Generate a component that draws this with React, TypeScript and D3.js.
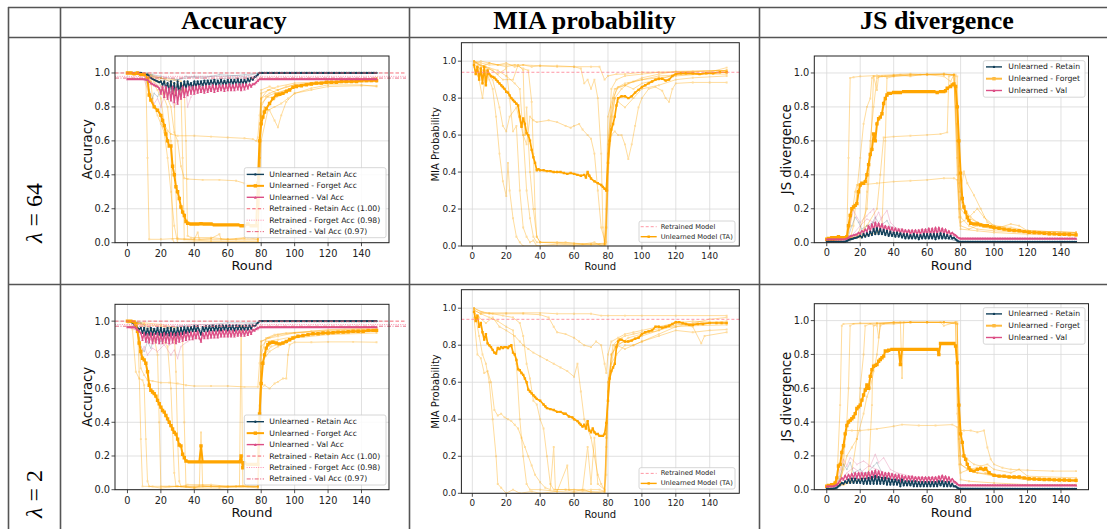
import React from "react";
import * as d3 from "d3";

type Pt = [number, number];
const perRound = (start: number, vals: number[]): Pt[] => vals.map((v, i) => [start + i, v] as Pt);

// ---------- labels / ticks ----------
const COL_TITLES = ["Accuracy", "MIA probability", "JS divergence"];
const ROW_LAMBDAS = ["64", "2"];
const ROUND_TICKS = [0, 20, 40, 60, 80, 100, 120, 140];
const VALUE_TICKS = [0, 0.2, 0.4, 0.6, 0.8, 1.0];
const ACC_LEGEND = [
  "Unlearned - Retain Acc",
  "Unlearned - Forget Acc",
  "Unlearned - Val Acc",
  "Retrained - Retain Acc (1.00)",
  "Retrained - Forget Acc (0.98)",
  "Retrained - Val Acc (0.97)",
];
const MIA_LEGEND = ["Retrained Model", "Unlearned Model (TA)"];
const JS_LEGEND = ["Unlearned - Retain", "Unlearned - Forget", "Unlearned - Val"];
const RETRAINED_ACC = [1.0, 0.98, 0.97];
const RETRAINED_MIA = 0.94;

// ================= Accuracy, lambda = 64 =================
const acc64Forget: Pt[] = [[0,1],[2,1],[4,0.995],[6,1],[8,0.99],[10,0.99],[12,0.97],[13,0.87],[14,0.84],[16,0.8],[18,0.78],[20,0.75],[21,0.72],[22,0.69],[23,0.64],[24,0.6],[25,0.57],[26,0.57],[27,0.45],[28,0.4],[29,0.33],[30,0.3],[31,0.26],[32,0.21],[33,0.18],[34,0.16],[35,0.125],[36,0.115],[38,0.11],[40,0.11],[42,0.11],[44,0.112],[46,0.11],[48,0.11],[50,0.11],[52,0.105],[54,0.105],[56,0.105],[58,0.105],[60,0.105],[62,0.105],[64,0.105],[66,0.105],[68,0.1],[70,0.1],[72,0.11],[74,0.1],[76,0.1],[77,0.1],[78,0.35],[79,0.6],[80,0.7],[81,0.74],[82,0.77],[83,0.79],[85,0.82],[87,0.85],[89,0.87],[91,0.875],[93,0.88],[95,0.89],[97,0.9],[99,0.915],[101,0.92],[104,0.925],[107,0.93],[110,0.935],[113,0.94],[116,0.94],[119,0.945],[122,0.945],[125,0.945],[128,0.95],[131,0.95],[134,0.95],[137,0.95],[140,0.955],[143,0.955],[146,0.955],[149,0.955]];
const acc64Retain: Pt[] = perRound(0, [
  1,1,1,1,1,1,1,1,1,0.995,
  0.995,0.99,0.99,0.98,0.97,0.965,0.96,0.955,0.95,0.945,
  0.95,0.93,0.95,0.91,0.94,0.89,0.95,0.88,0.94,0.87,
  0.95,0.88,0.94,0.9,0.95,0.91,0.95,0.92,0.94,0.91,
  0.95,0.92,0.95,0.92,0.95,0.925,0.955,0.925,0.955,0.93,
  0.955,0.93,0.96,0.925,0.955,0.93,0.96,0.93,0.955,0.93,
  0.96,0.93,0.96,0.935,0.96,0.93,0.965,0.93,0.96,0.935,
  0.96,0.94,0.965,0.95,0.97,0.96,0.975,0.98,0.99,1,
  1,1,1,1,1,1,1,1,1,1, 1,1,1,1,1,1,1,1,1,1, 1,1,1,1,1,1,1,1,1,1,
  1,1,1,1,1,1,1,1,1,1, 1,1,1,1,1,1,1,1,1,1, 1,1,1,1,1,1,1,1,1,1,
  1,1,1,1,1,1,1,1,1,1,
]);
const acc64Val: Pt[] = perRound(0, [
  0.965,0.965,0.965,0.965,0.965,0.965,0.965,0.965,0.965,0.965,
  0.965,0.962,0.96,0.95,0.94,0.935,0.93,0.925,0.92,0.91,
  0.88,0.92,0.86,0.92,0.85,0.91,0.84,0.92,0.83,0.91,
  0.82,0.9,0.85,0.92,0.86,0.91,0.87,0.92,0.88,0.92,
  0.88,0.92,0.885,0.925,0.89,0.92,0.885,0.925,0.89,0.925,
  0.895,0.93,0.89,0.925,0.895,0.93,0.9,0.93,0.895,0.93,
  0.9,0.935,0.9,0.93,0.9,0.935,0.905,0.935,0.9,0.935,
  0.905,0.935,0.91,0.935,0.92,0.935,0.935,0.945,0.955,0.965,
  0.965,0.965,0.965,0.965,0.965,0.965,0.965,0.965,0.965,0.965,
  0.965,0.965,0.965,0.965,0.965,0.965,0.965,0.965,0.965,0.965,
  0.965,0.965,0.965,0.965,0.965,0.965,0.965,0.965,0.965,0.965,
  0.965,0.965,0.965,0.965,0.965,0.965,0.965,0.965,0.965,0.965,
  0.965,0.965,0.965,0.965,0.965,0.965,0.965,0.965,0.965,0.965,
  0.965,0.965,0.965,0.965,0.965,0.965,0.965,0.965,0.965,0.965,
  0.965,0.965,0.965,0.965,0.965,0.965,0.965,0.965,0.965,0.965,
]);
const acc64ForgetRuns: Pt[][] = [
  [[0,1],[11,0.99],[12,0.5],[13,0.02],[20,0.02],[30,0.025],[40,0.02],[50,0.02],[60,0.02],[70,0.02],[78,0.02],[79,0.5],[80,0.85],[84,0.9],[90,0.92],[100,0.94],[120,0.95],[149,0.96]],
  [[0,1],[10,1],[14,0.95],[18,0.9],[20,0.85],[22,0.7],[24,0.66],[26,0.64],[30,0.63],[40,0.63],[50,0.625],[60,0.62],[70,0.615],[75,0.61],[77,0.6],[78,0.62],[79,0.75],[80,0.85],[85,0.88],[90,0.9],[100,0.93],[110,0.94],[130,0.95],[149,0.97]],
  [[0,1],[12,0.99],[18,0.95],[22,0.9],[26,0.8],[28,0.65],[30,0.6],[32,0.45],[34,0.38],[36,0.375],[45,0.37],[55,0.37],[65,0.365],[70,0.35],[75,0.34],[78,0.345],[79,0.6],[80,0.8],[83,0.86],[88,0.88],[95,0.9],[105,0.93],[120,0.94],[149,0.95]],
  [[0,1],[12,0.98],[16,0.95],[20,0.9],[24,0.8],[26,0.6],[27,0.02],[28,0],[40,0.005],[60,0.005],[78,0.005],[79,0.3],[80,0.75],[82,0.8],[85,0.78],[88,0.72],[90,0.68],[92,0.75],[95,0.83],[100,0.88],[110,0.91],[120,0.93],[140,0.93],[149,0.92]],
  [[0,1],[14,0.99],[20,0.97],[26,0.95],[30,0.93],[32,0.9],[33,0.5],[34,0.02],[40,0.02],[42,0.06],[43,0.02],[50,0.025],[55,0.05],[56,0.02],[65,0.02],[72,0.03],[78,0.02],[79,0.5],[80,0.88],[85,0.9],[90,0.88],[95,0.9],[100,0.92],[110,0.94],[130,0.95],[149,0.96]],
  [[0,1],[14,0.98],[20,0.97],[28,0.96],[32,0.95],[34,0.9],[35,0.6],[36,0.04],[38,0.03],[50,0.03],[60,0.02],[70,0.03],[78,0.03],[79,0.5],[80,0.9],[85,0.92],[90,0.9],[95,0.92],[100,0.93],[120,0.95],[149,0.97]],
  [[0,1],[12,0.99],[14,0.95],[15,0.85],[16,0.8],[18,0.75],[20,0.7],[22,0.65],[24,0.5],[26,0.3],[28,0.1],[30,0],[50,0],[78,0],[79,0.4],[80,0.82],[84,0.86],[88,0.85],[92,0.87],[96,0.9],[100,0.92],[110,0.93],[130,0.945],[149,0.95]],
  [[0,1],[14,0.98],[22,0.95],[28,0.9],[29,0.3],[30,0.02],[50,0.01],[78,0.01],[79,0.3],[80,0.6],[84,0.78],[88,0.8],[92,0.82],[96,0.85],[100,0.88],[110,0.9],[120,0.92],[140,0.925],[149,0.925]],
];
const acc64RetainRuns: Pt[][] = [
  [[0,1],[10,0.99],[13,0.9],[15,0.85],[16,0.88],[18,0.86],[20,0.9],[25,0.88],[30,0.92],[35,0.93],[40,0.95],[50,0.96],[60,0.97],[70,0.97],[76,0.98],[79,1],[149,1]],
  [[0,1],[12,1],[15,0.98],[20,0.97],[25,0.95],[30,0.96],[40,0.98],[50,0.98],[60,0.98],[70,0.99],[78,1],[149,1]],
  [[0,1],[15,0.99],[20,0.98],[30,0.96],[35,0.98],[45,0.97],[55,0.99],[70,0.98],[79,1],[149,1]],
];
const acc64ValRuns: Pt[][] = [
  [[0,0.965],[10,0.96],[14,0.85],[16,0.82],[18,0.85],[20,0.8],[22,0.86],[26,0.85],[28,0.8],[30,0.84],[32,0.88],[35,0.9],[36,0.8],[38,0.86],[40,0.88],[50,0.9],[60,0.91],[70,0.92],[78,0.95],[80,0.965],[149,0.965]],
  [[0,0.965],[12,0.96],[16,0.94],[20,0.92],[25,0.93],[30,0.9],[40,0.93],[50,0.94],[60,0.95],[70,0.95],[78,0.96],[80,0.965],[149,0.965]],
];

// ================= MIA, lambda = 64 =================
const mia64Main: Pt[] = [[1,0.98],[2,0.93],[3,0.97],[4,0.9],[5,0.96],[6,0.88],[7,0.97],[8,0.87],[9,0.95],[10,0.93],[11,0.92],[12,0.915],[13,0.91],[14,0.9],[15,0.89],[16,0.88],[17,0.87],[18,0.86],[19,0.85],[20,0.835],[21,0.83],[22,0.815],[23,0.8],[24,0.79],[25,0.78],[26,0.77],[27,0.76],[28,0.7],[29,0.645],[30,0.69],[31,0.66],[32,0.61],[33,0.6],[34,0.57],[35,0.52],[36,0.48],[37,0.45],[38,0.41],[39,0.415],[40,0.41],[42,0.41],[44,0.405],[46,0.405],[48,0.4],[50,0.4],[52,0.4],[54,0.395],[56,0.39],[58,0.395],[60,0.39],[62,0.385],[64,0.38],[66,0.385],[67,0.37],[68,0.4],[69,0.38],[70,0.365],[72,0.35],[74,0.34],[76,0.33],[77,0.32],[78,0.31],[79,0.3],[80,0.45],[81,0.57],[82,0.63],[83,0.66],[84,0.7],[85,0.76],[86,0.8],[88,0.81],[90,0.81],[92,0.8],[94,0.81],[96,0.83],[98,0.845],[100,0.86],[102,0.87],[104,0.88],[106,0.89],[108,0.9],[110,0.905],[112,0.905],[114,0.895],[116,0.9],[118,0.92],[120,0.93],[123,0.935],[126,0.935],[130,0.935],[134,0.93],[138,0.935],[142,0.935],[146,0.94],[150,0.94]];
const mia64Runs: Pt[][] = [
  [[1,1],[5,0.99],[10,0.98],[20,0.98],[30,0.98],[40,0.975],[50,0.975],[60,0.97],[64,0.96],[66,0.88],[68,0.9],[70,0.85],[72,0.9],[74,0.8],[76,0.5],[77,0.1],[78,0.01],[79,0.01],[80,0.5],[82,0.85],[85,0.9],[90,0.92],[100,0.93],[110,0.94],[130,0.945],[150,0.95]],
  [[1,0.99],[5,1],[10,0.99],[15,0.98],[20,0.99],[25,0.97],[30,0.98],[35,0.97],[40,0.975],[50,0.97],[60,0.97],[70,0.97],[75,0.97],[78,0.9],[80,0.92],[85,0.93],[90,0.93],[100,0.94],[120,0.94],[150,0.95]],
  [[1,0.97],[4,0.9],[6,0.8],[8,0.95],[10,0.9],[12,0.85],[14,0.7],[16,0.5],[18,0.35],[20,0.27],[21,0.45],[22,0.3],[24,0.15],[26,0.05],[28,0.02],[30,0],[40,0],[50,0],[60,0],[70,0],[78,0],[79,0.2],[80,0.55],[82,0.75],[85,0.85],[90,0.87],[95,0.85],[100,0.88],[110,0.9],[120,0.93],[150,0.93]],
  [[1,0.99],[8,0.97],[15,0.95],[20,0.92],[25,0.88],[28,0.85],[30,0.6],[32,0.55],[34,0.7],[36,0.68],[38,0.67],[45,0.68],[50,0.67],[55,0.65],[58,0.64],[60,0.65],[63,0.66],[65,0.63],[68,0.6],[70,0.58],[72,0.5],[74,0.3],[76,0.1],[78,0.03],[79,0.02],[80,0.4],[82,0.65],[84,0.8],[88,0.85],[92,0.88],[100,0.9],[110,0.92],[130,0.93],[150,0.94]],
  [[1,1],[5,0.98],[10,0.96],[15,0.93],[20,0.96],[22,0.8],[24,0.62],[26,0.65],[28,0.3],[30,0.1],[32,0.05],[34,0.02],[36,0.03],[38,0],[50,0.01],[60,0.005],[70,0.01],[78,0.01],[79,0.1],[80,0.45],[82,0.6],[84,0.62],[86,0.6],[88,0.6],[90,0.55],[92,0.47],[94,0.55],[96,0.65],[98,0.75],[100,0.8],[104,0.85],[108,0.86],[112,0.84],[114,0.8],[116,0.78],[118,0.85],[120,0.88],[130,0.885],[140,0.885],[150,0.885]],
  [[1,1],[6,0.97],[12,0.95],[18,0.9],[24,0.9],[27,0.98],[30,0.95],[31,0.6],[32,0.75],[34,0.4],[36,0.2],[38,0.05],[40,0.02],[50,0.02],[60,0.015],[70,0.01],[78,0.015],[79,0.1],[80,0.5],[82,0.7],[84,0.8],[86,0.78],[90,0.75],[95,0.8],[100,0.85],[110,0.87],[120,0.9],[130,0.91],[150,0.92]],
  [[1,0.98],[6,0.95],[12,0.9],[16,0.75],[18,0.65],[20,0.62],[22,0.7],[26,0.75],[30,0.6],[32,0.3],[34,0.15],[36,0.05],[38,0.02],[40,0.02],[55,0.02],[65,0.01],[72,0.02],[76,0],[78,0],[80,0.3],[81,0.6],[83,0.8],[86,0.86],[90,0.87],[95,0.89],[100,0.91],[110,0.93],[120,0.945],[150,0.95]],
  [[1,1],[5,0.97],[10,0.99],[15,0.98],[20,0.97],[25,0.98],[30,0.96],[33,0.95],[35,0.78],[36,0.5],[37,0.2],[38,0.05],[40,0.02],[60,0.01],[75,0.01],[78,0.01],[79,0.3],[80,0.7],[84,0.85],[90,0.88],[100,0.9],[110,0.91],[120,0.92],[135,0.93],[150,0.965]],
];

// ================= JS divergence, lambda = 64 =================
const js64Forget: Pt[] = [[0,0.02],[1,0.025],[2,0.02],[3,0.03],[4,0.02],[5,0.03],[6,0.025],[7,0.035],[8,0.025],[9,0.03],[10,0.03],[11,0.03],[12,0.035],[13,0.1],[14,0.16],[15,0.2],[16,0.21],[17,0.22],[18,0.23],[19,0.3],[20,0.34],[21,0.35],[22,0.35],[23,0.36],[24,0.4],[25,0.46],[26,0.52],[27,0.55],[28,0.64],[29,0.6],[30,0.7],[31,0.73],[32,0.74],[33,0.76],[34,0.82],[35,0.85],[36,0.87],[37,0.88],[38,0.88],[40,0.885],[42,0.885],[44,0.885],[46,0.89],[48,0.89],[50,0.89],[52,0.89],[54,0.89],[56,0.89],[58,0.89],[60,0.89],[62,0.89],[64,0.89],[66,0.885],[68,0.89],[70,0.89],[71,0.895],[72,0.91],[74,0.92],[75,0.93],[76,0.935],[77,0.92],[78,0.8],[79,0.6],[80,0.41],[81,0.26],[82,0.21],[83,0.18],[84,0.15],[85,0.13],[86,0.115],[88,0.11],[90,0.11],[92,0.105],[94,0.1],[96,0.1],[98,0.095],[100,0.09],[103,0.085],[106,0.08],[109,0.075],[112,0.072],[115,0.07],[118,0.065],[121,0.062],[124,0.06],[127,0.058],[130,0.055],[133,0.053],[136,0.052],[139,0.05],[142,0.05],[145,0.048],[149,0.046]];
const js64Retain: Pt[] = perRound(0, [
  0.005,0.005,0.005,0.005,0.005,0.005,0.005,0.005,0.005,0.005,
  0.005,0.006,0.01,0.015,0.02,0.022,0.025,0.028,0.03,0.035,
  0.04,0.03,0.05,0.035,0.055,0.04,0.065,0.045,0.08,0.05,
  0.085,0.05,0.08,0.05,0.075,0.045,0.07,0.04,0.065,0.04,
  0.06,0.035,0.06,0.035,0.055,0.03,0.05,0.025,0.05,0.025,
  0.045,0.025,0.05,0.025,0.045,0.02,0.045,0.025,0.05,0.025,
  0.05,0.025,0.05,0.025,0.05,0.02,0.05,0.025,0.055,0.025,
  0.05,0.025,0.045,0.025,0.04,0.025,0.03,0.02,0.012,0.006,
  0.005,0.005,0.005,0.005,0.005,0.005,0.005,0.005,0.005,0.005,
  0.005,0.005,0.005,0.005,0.005,0.005,0.005,0.005,0.005,0.005,
  0.005,0.005,0.005,0.005,0.005,0.005,0.005,0.005,0.005,0.005,
  0.005,0.005,0.005,0.005,0.005,0.005,0.005,0.005,0.005,0.005,
  0.005,0.005,0.005,0.005,0.005,0.005,0.005,0.005,0.005,0.005,
  0.005,0.005,0.005,0.005,0.005,0.005,0.005,0.005,0.005,0.005,
  0.005,0.005,0.005,0.005,0.005,0.005,0.005,0.005,0.005,0.005,
]);
const js64Val: Pt[] = perRound(0, [
  0.02,0.02,0.02,0.02,0.02,0.02,0.02,0.02,0.02,0.02,
  0.02,0.022,0.025,0.03,0.04,0.042,0.045,0.048,0.05,0.06,
  0.055,0.07,0.06,0.08,0.065,0.1,0.07,0.11,0.075,0.12,
  0.08,0.115,0.08,0.11,0.075,0.1,0.07,0.095,0.065,0.09,
  0.065,0.085,0.06,0.08,0.055,0.08,0.055,0.075,0.055,0.075,
  0.05,0.075,0.05,0.075,0.05,0.075,0.05,0.08,0.05,0.08,
  0.05,0.085,0.05,0.085,0.05,0.09,0.05,0.09,0.055,0.085,
  0.05,0.08,0.05,0.07,0.05,0.06,0.05,0.045,0.035,0.028,
  0.025,0.025,0.025,0.025,0.025,0.025,0.025,0.025,0.025,0.025,
  0.025,0.025,0.025,0.025,0.025,0.025,0.025,0.025,0.025,0.025,
  0.025,0.025,0.025,0.025,0.025,0.025,0.025,0.025,0.025,0.025,
  0.025,0.025,0.025,0.025,0.025,0.025,0.025,0.025,0.025,0.025,
  0.025,0.025,0.025,0.025,0.025,0.025,0.025,0.025,0.025,0.025,
  0.025,0.025,0.025,0.025,0.025,0.025,0.025,0.025,0.025,0.025,
  0.025,0.025,0.025,0.025,0.025,0.025,0.025,0.025,0.025,0.025,
]);
const js64ForgetRuns: Pt[][] = [
  [[0,0.02],[12,0.03],[13,0.5],[14,0.97],[16,0.975],[20,0.98],[30,0.985],[40,0.99],[50,0.995],[60,0.99],[70,0.995],[76,0.99],[78,0.5],[79,0.15],[80,0.08],[90,0.07],[100,0.06],[120,0.05],[149,0.04]],
  [[0,0.01],[14,0.02],[16,0.1],[18,0.3],[20,0.5],[22,0.7],[24,0.8],[26,0.85],[27,0.97],[28,0.98],[35,0.98],[40,0.985],[50,0.99],[60,0.99],[70,0.98],[74,0.95],[76,0.99],[78,0.6],[79,0.35],[80,0.3],[82,0.42],[84,0.35],[88,0.28],[92,0.2],[96,0.12],[100,0.1],[110,0.09],[120,0.07],[149,0.06]],
  [[0,0.02],[15,0.03],[20,0.05],[24,0.1],[30,0.2],[32,0.4],[34,0.62],[40,0.625],[50,0.63],[60,0.635],[68,0.64],[72,0.65],[73,0.98],[76,0.99],[78,0.6],[80,0.25],[82,0.2],[86,0.15],[90,0.12],[100,0.08],[120,0.06],[149,0.05]],
  [[0,0.01],[12,0.02],[14,0.1],[17,0.3],[18,0.34],[20,0.34],[30,0.35],[40,0.36],[50,0.365],[60,0.37],[70,0.38],[76,0.38],[78,0.37],[79,0.2],[80,0.12],[84,0.14],[88,0.18],[90,0.2],[94,0.15],[100,0.1],[110,0.08],[120,0.06],[149,0.05]],
  [[0,0.02],[20,0.03],[30,0.06],[33,0.1],[35,0.6],[36,0.97],[40,0.98],[50,0.985],[60,0.99],[70,0.99],[77,0.99],[78,0.7],[79,0.3],[80,0.1],[85,0.08],[90,0.1],[100,0.08],[110,0.11],[115,0.1],[120,0.07],[149,0.06]],
  [[0,0.02],[18,0.03],[24,0.2],[26,0.5],[28,0.98],[30,0.9],[31,0.98],[40,0.985],[44,0.99],[50,0.98],[56,0.99],[60,0.995],[70,0.99],[76,0.99],[78,0.4],[80,0.15],[85,0.1],[90,0.08],[100,0.07],[120,0.06],[149,0.05]],
  [[0,0.02],[14,0.02],[22,0.05],[24,0.3],[26,0.6],[28,0.8],[30,0.97],[33,0.98],[40,0.98],[50,0.99],[60,0.99],[70,0.995],[78,0.98],[79,0.45],[80,0.2],[84,0.15],[90,0.12],[100,0.09],[120,0.07],[149,0.06]],
];
const js64RetainRuns: Pt[][] = [
  [[0,0.005],[12,0.01],[15,0.1],[17,0.15],[19,0.12],[21,0.08],[24,0.1],[28,0.12],[30,0.06],[35,0.05],[40,0.04],[50,0.03],[60,0.03],[70,0.03],[78,0.01],[80,0.005],[149,0.005]],
  [[0,0.005],[14,0.01],[20,0.05],[25,0.08],[29,0.15],[32,0.1],[36,0.13],[40,0.06],[50,0.04],[65,0.04],[78,0.01],[149,0.005]],
];
const js64ValRuns: Pt[][] = [
  [[0,0.02],[12,0.03],[14,0.12],[16,0.19],[18,0.15],[20,0.12],[24,0.16],[26,0.18],[28,0.2],[30,0.1],[33,0.15],[36,0.19],[38,0.12],[42,0.08],[50,0.06],[60,0.06],[70,0.07],[78,0.03],[80,0.025],[149,0.025]],
  [[0,0.02],[14,0.03],[20,0.1],[24,0.14],[28,0.12],[31,0.18],[34,0.1],[40,0.09],[50,0.07],[60,0.08],[70,0.08],[78,0.03],[149,0.025]],
];

// ================= Accuracy, lambda = 2 =================
const acc2Forget: Pt[] = [[0,1],[2,1],[4,0.995],[5,0.98],[6,0.94],[7,0.87],[8,0.82],[9,0.78],[10,0.77],[11,0.75],[12,0.7],[13,0.62],[14,0.59],[15,0.58],[16,0.57],[17,0.555],[18,0.53],[19,0.51],[20,0.49],[21,0.47],[22,0.46],[23,0.44],[24,0.42],[25,0.4],[26,0.38],[27,0.36],[28,0.34],[29,0.33],[30,0.3],[31,0.265],[32,0.26],[33,0.21],[34,0.19],[35,0.17],[37,0.165],[39,0.165],[41,0.165],[43,0.165],[44,0.26],[45,0.165],[47,0.165],[49,0.165],[51,0.165],[53,0.165],[55,0.165],[57,0.165],[59,0.165],[61,0.165],[63,0.165],[65,0.165],[67,0.165],[68,0.2],[69,0.13],[70,0.16],[72,0.15],[74,0.15],[76,0.15],[78,0.15],[79,0.45],[80,0.63],[81,0.75],[82,0.8],[83,0.84],[84,0.86],[85,0.87],[87,0.875],[89,0.87],[91,0.865],[93,0.87],[95,0.88],[97,0.89],[99,0.9],[102,0.91],[105,0.915],[108,0.92],[111,0.925],[114,0.925],[117,0.93],[120,0.93],[123,0.932],[126,0.935],[129,0.935],[132,0.937],[135,0.94],[138,0.94],[141,0.94],[144,0.945],[147,0.945],[149,0.945]];
const acc2Retain: Pt[] = perRound(0, [
  1,1,1,0.99,0.98,0.97,0.96,0.95,0.96,0.93,
  0.96,0.92,0.955,0.92,0.96,0.92,0.955,0.925,0.96,0.92,
  0.96,0.915,0.955,0.92,0.96,0.915,0.96,0.92,0.955,0.915,
  0.96,0.92,0.96,0.925,0.965,0.93,0.965,0.935,0.965,0.94,
  0.97,0.94,0.97,0.945,0.92,0.965,0.94,0.97,0.94,0.97,
  0.945,0.975,0.945,0.97,0.945,0.975,0.945,0.975,0.95,0.975,
  0.945,0.975,0.95,0.975,0.945,0.975,0.95,0.975,0.95,0.97,
  0.95,0.975,0.95,0.975,0.955,0.975,0.97,0.98,0.99,1,
  1,1,1,1,1,1,1,1,1,1, 1,1,1,1,1,1,1,1,1,1, 1,1,1,1,1,1,1,1,1,1,
  1,1,1,1,1,1,1,1,1,1, 1,1,1,1,1,1,1,1,1,1, 1,1,1,1,1,1,1,1,1,1,
  1,1,1,1,1,1,1,1,1,1,
]);
const acc2Val: Pt[] = perRound(0, [
  0.965,0.965,0.965,0.965,0.965,0.96,0.95,0.94,0.93,0.89,
  0.93,0.88,0.925,0.875,0.93,0.87,0.925,0.875,0.93,0.87,
  0.925,0.87,0.93,0.875,0.925,0.87,0.93,0.875,0.925,0.87,
  0.93,0.88,0.93,0.885,0.935,0.89,0.935,0.895,0.935,0.895,
  0.935,0.9,0.94,0.9,0.88,0.93,0.9,0.935,0.9,0.94,
  0.905,0.94,0.905,0.94,0.905,0.945,0.91,0.945,0.91,0.945,
  0.91,0.945,0.91,0.945,0.91,0.945,0.915,0.945,0.915,0.945,
  0.915,0.945,0.92,0.945,0.925,0.95,0.945,0.955,0.96,0.965,
  0.965,0.965,0.965,0.965,0.965,0.965,0.965,0.965,0.965,0.965,
  0.965,0.965,0.965,0.965,0.965,0.965,0.965,0.965,0.965,0.965,
  0.965,0.965,0.965,0.965,0.965,0.965,0.965,0.965,0.965,0.965,
  0.965,0.965,0.965,0.965,0.965,0.965,0.965,0.965,0.965,0.965,
  0.965,0.965,0.965,0.965,0.965,0.965,0.965,0.965,0.965,0.965,
  0.965,0.965,0.965,0.965,0.965,0.965,0.965,0.965,0.965,0.965,
  0.965,0.965,0.965,0.965,0.965,0.965,0.965,0.965,0.965,0.965,
]);
const acc2ForgetRuns: Pt[][] = [
  [[0,1],[6,0.99],[7,0.7],[8,0.3],[9,0.02],[15,0.02],[25,0.02],[35,0.02],[45,0.025],[55,0.02],[65,0.02],[72,0.02],[78,0.02],[79,0.5],[80,0.88],[84,0.9],[90,0.92],[100,0.93],[120,0.95],[149,0.96]],
  [[0,1],[3,0.95],[5,0.7],[7,0.66],[9,0.65],[10,0.62],[11,0.3],[12,0.05],[13,0.02],[20,0.01],[30,0.02],[40,0.015],[50,0.02],[60,0.02],[68,0.02],[78,0.02],[79,0.3],[80,0.8],[83,0.9],[88,0.92],[95,0.93],[110,0.94],[130,0.95],[149,0.95]],
  [[0,1],[5,0.99],[7,0.9],[8,0.72],[10,0.68],[12,0.65],[15,0.645],[20,0.635],[25,0.635],[30,0.63],[35,0.62],[40,0.615],[50,0.615],[60,0.615],[70,0.61],[78,0.61],[79,0.75],[80,0.88],[85,0.9],[90,0.91],[100,0.93],[120,0.94],[149,0.95]],
  [[0,1],[8,0.98],[12,0.95],[16,0.9],[18,0.8],[19,0.4],[20,0.02],[30,0.02],[40,0.01],[43,0.02],[44,0.34],[45,0.02],[60,0.015],[78,0.015],[79,0.2],[80,0.6],[82,0.62],[85,0.6],[88,0.63],[90,0.64],[93,0.66],[95,0.66],[96,0.8],[97,0.86],[100,0.875],[110,0.875],[120,0.877],[135,0.877],[149,0.875]],
  [[0,1],[10,0.98],[15,0.95],[20,0.9],[24,0.85],[26,0.6],[28,0.1],[29,0.02],[40,0.01],[55,0.01],[67,0.02],[68,0.97],[69,0.02],[78,0.01],[79,0.4],[80,0.85],[83,0.88],[90,0.89],[100,0.91],[120,0.93],[149,0.94]],
  [[0,1],[10,0.98],[20,0.97],[28,0.95],[29,0.7],[30,0.3],[31,0.05],[32,0.02],[36,0.03],[50,0.03],[60,0.02],[70,0.025],[78,0.02],[79,0.3],[80,0.7],[82,0.8],[86,0.85],[90,0.86],[95,0.88],[100,0.9],[120,0.92],[149,0.93]],
  [[0,1],[10,0.99],[20,0.98],[30,0.96],[33,0.9],[34,0.4],[35,0.02],[50,0.02],[65,0.02],[78,0.02],[79,0.4],[80,0.75],[85,0.82],[90,0.85],[95,0.87],[100,0.9],[110,0.92],[130,0.93],[149,0.94]],
];
const acc2RetainRuns: Pt[][] = [
  [[0,1],[6,0.97],[8,0.85],[10,0.82],[12,0.88],[14,0.84],[16,0.9],[20,0.88],[25,0.92],[30,0.9],[35,0.94],[40,0.95],[50,0.97],[60,0.97],[70,0.98],[78,0.99],[80,1],[149,1]],
  [[0,1],[8,0.99],[12,0.96],[20,0.95],[30,0.97],[40,0.98],[50,0.98],[60,0.99],[78,0.99],[80,1],[149,1]],
];
const acc2ValRuns: Pt[][] = [
  [[0,0.965],[6,0.95],[8,0.8],[10,0.85],[12,0.8],[15,0.84],[18,0.82],[22,0.86],[26,0.8],[28,0.83],[30,0.78],[32,0.85],[36,0.88],[40,0.9],[50,0.9],[60,0.91],[70,0.92],[78,0.95],[80,0.965],[149,0.965]],
  [[0,0.965],[8,0.94],[12,0.9],[16,0.88],[20,0.9],[25,0.86],[30,0.88],[35,0.91],[45,0.93],[55,0.94],[70,0.94],[78,0.96],[149,0.965]],
];

// ================= MIA, lambda = 2 =================
const mia2Main: Pt[] = [[1,0.98],[2,0.93],[3,0.96],[4,0.9],[5,0.92],[6,0.87],[7,0.83],[8,0.86],[9,0.81],[10,0.8],[11,0.79],[12,0.775],[13,0.76],[14,0.755],[15,0.785],[16,0.78],[17,0.79],[18,0.785],[19,0.79],[20,0.79],[21,0.785],[22,0.795],[23,0.8],[24,0.76],[25,0.75],[26,0.72],[27,0.67],[28,0.665],[29,0.65],[30,0.64],[31,0.62],[32,0.6],[33,0.56],[34,0.55],[35,0.54],[36,0.53],[37,0.52],[38,0.51],[40,0.5],[42,0.48],[43,0.47],[44,0.46],[46,0.455],[48,0.45],[50,0.44],[52,0.44],[54,0.43],[55,0.43],[57,0.415],[59,0.41],[60,0.4],[62,0.39],[63,0.38],[64,0.37],[65,0.36],[66,0.37],[67,0.35],[68,0.39],[69,0.34],[70,0.33],[71,0.35],[72,0.33],[73,0.32],[74,0.32],[75,0.31],[76,0.31],[77,0.31],[78,0.32],[79,0.38],[80,0.5],[81,0.62],[82,0.66],[83,0.68],[84,0.7],[85,0.79],[86,0.82],[87,0.83],[88,0.83],[90,0.82],[92,0.82],[94,0.825],[96,0.835],[98,0.84],[100,0.86],[102,0.87],[104,0.875],[106,0.88],[108,0.9],[110,0.9],[112,0.895],[114,0.9],[116,0.905],[118,0.915],[120,0.925],[122,0.925],[124,0.92],[126,0.915],[128,0.91],[130,0.91],[133,0.915],[136,0.915],[140,0.92],[144,0.92],[147,0.92],[150,0.92]];
const mia2Runs: Pt[][] = [
  [[1,0.99],[5,0.97],[10,0.975],[20,0.975],[30,0.975],[40,0.975],[50,0.97],[60,0.97],[70,0.97],[76,0.96],[80,0.96],[90,0.96],[100,0.96],[120,0.96],[150,0.96]],
  [[1,1],[5,0.98],[10,0.97],[20,0.97],[30,0.97],[40,0.965],[45,0.95],[48,0.9],[50,0.87],[55,0.86],[60,0.84],[63,0.82],[66,0.8],[70,0.79],[73,0.82],[76,0.8],[78,0.7],[79,0.65],[80,0.75],[82,0.82],[86,0.84],[90,0.86],[95,0.87],[100,0.88],[110,0.9],[120,0.92],[130,0.9],[135,0.81],[137,0.85],[150,0.87]],
  [[1,0.98],[4,0.95],[8,0.92],[12,0.95],[16,0.9],[20,0.88],[25,0.85],[28,0.82],[30,0.8],[33,0.78],[36,0.76],[40,0.74],[44,0.72],[48,0.7],[52,0.68],[56,0.66],[60,0.63],[62,0.7],[64,0.55],[66,0.4],[68,0.35],[70,0.3],[72,0.2],[74,0.1],[76,0.05],[78,0.02],[79,0.1],[80,0.5],[82,0.75],[85,0.8],[90,0.78],[95,0.8],[100,0.82],[110,0.85],[120,0.88],[130,0.87],[140,0.88],[150,0.885]],
  [[1,0.95],[3,0.75],[5,0.73],[7,0.65],[9,0.66],[11,0.6],[13,0.45],[15,0.42],[17,0.43],[19,0.41],[21,0.4],[23,0.39],[25,0.37],[27,0.35],[29,0.3],[31,0.25],[33,0.2],[35,0.15],[37,0.1],[40,0.06],[43,0.03],[46,0.02],[48,0.25],[49,0.02],[55,0.02],[60,0.02],[65,0.015],[70,0.02],[75,0.02],[78,0.01],[79,0.2],[80,0.55],[82,0.7],[85,0.75],[90,0.8],[95,0.8],[100,0.82],[110,0.86],[120,0.9],[130,0.92],[140,0.94],[150,0.95]],
  [[1,1],[4,0.85],[6,0.75],[8,0.7],[10,0.6],[12,0.4],[14,0.2],[15,0.05],[17,0.03],[20,0],[24,0.02],[28,0],[35,0.01],[40,0],[50,0.01],[60,0.005],[70,0.01],[78,0],[79,0.3],[80,0.6],[83,0.8],[86,0.83],[90,0.85],[95,0.86],[100,0.87],[110,0.89],[120,0.9],[130,0.905],[150,0.91]],
  [[1,0.99],[5,0.97],[10,0.95],[15,0.93],[20,0.9],[24,0.88],[26,0.7],[28,0.4],[30,0.2],[32,0.05],[34,0.02],[40,0.02],[50,0.01],[56,0.15],[57,0.02],[66,0.02],[70,0.005],[78,0.01],[79,0.25],[80,0.55],[82,0.75],[86,0.8],[92,0.84],[100,0.86],[110,0.88],[120,0.91],[135,0.92],[150,0.93]],
  [[1,1],[6,0.98],[12,0.97],[18,0.96],[24,0.95],[28,0.92],[30,0.85],[32,0.7],[34,0.62],[36,0.5],[38,0.48],[40,0.4],[42,0.35],[44,0.2],[46,0.05],[48,0.02],[55,0.02],[60,0.01],[65,0.02],[68,0.25],[70,0.05],[72,0.3],[74,0.05],[78,0.02],[79,0.3],[80,0.6],[84,0.8],[90,0.82],[100,0.85],[110,0.88],[120,0.92],[130,0.93],[150,0.92]],
];

// ================= JS divergence, lambda = 2 =================
const js2Forget: Pt[] = [[0,0.02],[1,0.025],[2,0.025],[3,0.03],[4,0.03],[5,0.04],[6,0.07],[7,0.14],[8,0.15],[9,0.22],[10,0.26],[11,0.33],[12,0.38],[13,0.4],[14,0.41],[15,0.42],[16,0.43],[17,0.45],[18,0.48],[19,0.49],[20,0.5],[21,0.53],[22,0.56],[23,0.59],[24,0.62],[25,0.6],[26,0.67],[27,0.71],[28,0.73],[29,0.735],[30,0.74],[31,0.76],[32,0.77],[33,0.78],[34,0.79],[35,0.82],[36,0.82],[37,0.825],[39,0.83],[41,0.83],[43,0.83],[44,0.74],[45,0.83],[47,0.83],[49,0.83],[51,0.83],[53,0.83],[55,0.83],[57,0.83],[59,0.83],[61,0.83],[63,0.83],[65,0.83],[66,0.83],[67,0.8],[68,0.865],[70,0.865],[72,0.865],[74,0.865],[76,0.865],[77,0.85],[78,0.75],[79,0.5],[80,0.33],[81,0.28],[82,0.2],[83,0.18],[84,0.15],[85,0.13],[86,0.115],[88,0.11],[90,0.12],[92,0.125],[94,0.12],[95,0.125],[97,0.1],[100,0.085],[103,0.08],[106,0.08],[109,0.075],[112,0.075],[115,0.075],[118,0.07],[121,0.065],[124,0.063],[127,0.062],[130,0.06],[133,0.06],[136,0.058],[139,0.057],[142,0.057],[145,0.056],[149,0.055]];
const js2Retain: Pt[] = perRound(0, [
  0.005,0.005,0.005,0.005,0.006,0.008,0.012,0.02,0.03,0.04,
  0.035,0.05,0.04,0.06,0.04,0.065,0.04,0.065,0.04,0.06,
  0.04,0.065,0.035,0.065,0.035,0.07,0.035,0.075,0.035,0.08,
  0.035,0.075,0.035,0.07,0.035,0.07,0.03,0.065,0.03,0.06,
  0.03,0.06,0.03,0.055,0.02,0.06,0.025,0.05,0.025,0.05,
  0.025,0.05,0.02,0.05,0.02,0.045,0.02,0.045,0.02,0.045,
  0.02,0.045,0.02,0.045,0.02,0.045,0.02,0.05,0.025,0.05,
  0.02,0.045,0.02,0.045,0.02,0.035,0.02,0.02,0.012,0.006,
  0.005,0.005,0.005,0.005,0.005,0.005,0.005,0.005,0.005,0.005,
  0.005,0.005,0.005,0.005,0.005,0.005,0.005,0.005,0.005,0.005,
  0.005,0.005,0.005,0.005,0.005,0.005,0.005,0.005,0.005,0.005,
  0.005,0.005,0.005,0.005,0.005,0.005,0.005,0.005,0.005,0.005,
  0.005,0.005,0.005,0.005,0.005,0.005,0.005,0.005,0.005,0.005,
  0.005,0.005,0.005,0.005,0.005,0.005,0.005,0.005,0.005,0.005,
  0.005,0.005,0.005,0.005,0.005,0.005,0.005,0.005,0.005,0.005,
]);
const js2Val: Pt[] = perRound(0, [
  0.02,0.02,0.02,0.02,0.022,0.025,0.03,0.04,0.055,0.07,
  0.06,0.085,0.065,0.09,0.07,0.095,0.07,0.1,0.07,0.1,
  0.07,0.1,0.07,0.1,0.07,0.105,0.07,0.11,0.075,0.115,
  0.075,0.11,0.075,0.105,0.07,0.1,0.07,0.1,0.065,0.095,
  0.065,0.09,0.06,0.09,0.05,0.085,0.06,0.08,0.055,0.08,
  0.055,0.08,0.055,0.075,0.055,0.075,0.05,0.075,0.05,0.075,
  0.05,0.075,0.05,0.075,0.05,0.075,0.05,0.08,0.055,0.085,
  0.055,0.08,0.05,0.075,0.05,0.065,0.05,0.045,0.035,0.028,
  0.027,0.027,0.027,0.027,0.027,0.027,0.027,0.027,0.027,0.027,
  0.027,0.027,0.027,0.027,0.027,0.027,0.027,0.027,0.027,0.027,
  0.027,0.027,0.027,0.027,0.027,0.027,0.027,0.027,0.027,0.027,
  0.027,0.027,0.027,0.027,0.027,0.027,0.027,0.027,0.027,0.027,
  0.027,0.027,0.027,0.027,0.027,0.027,0.027,0.027,0.027,0.027,
  0.027,0.027,0.027,0.027,0.027,0.027,0.027,0.027,0.027,0.027,
  0.027,0.027,0.027,0.027,0.027,0.027,0.027,0.027,0.027,0.027,
]);
const js2ForgetRuns: Pt[][] = [
  [[0,0.02],[6,0.03],[8,0.5],[9,0.97],[10,0.98],[20,0.985],[30,0.985],[40,0.99],[50,0.99],[60,0.99],[70,0.99],[77,0.99],[78,0.6],[79,0.3],[80,0.15],[85,0.12],[90,0.1],[100,0.08],[120,0.06],[149,0.05]],
  [[0,0.02],[8,0.03],[10,0.15],[11,0.3],[12,0.35],[15,0.35],[20,0.35],[25,0.355],[30,0.36],[40,0.375],[45,0.385],[55,0.38],[65,0.38],[75,0.385],[78,0.37],[79,0.15],[80,0.06],[85,0.05],[100,0.04],[120,0.03],[149,0.03]],
  [[0,0.02],[8,0.04],[10,0.25],[12,0.4],[13,0.6],[14,0.97],[16,0.98],[30,0.985],[44,0.99],[45,0.66],[46,0.99],[60,0.99],[70,0.99],[78,0.98],[79,0.5],[80,0.35],[82,0.35],[86,0.35],[90,0.34],[94,0.35],[96,0.25],[98,0.18],[100,0.15],[105,0.13],[110,0.12],[120,0.115],[135,0.11],[149,0.11]],
  [[0,0.02],[10,0.03],[14,0.05],[18,0.3],[20,0.6],[22,0.8],[23,0.97],[26,0.98],[30,0.97],[31,0.9],[32,0.98],[40,0.985],[50,0.99],[60,0.99],[70,0.99],[78,0.99],[79,0.4],[80,0.2],[84,0.18],[88,0.15],[92,0.14],[96,0.15],[100,0.12],[110,0.1],[115,0.12],[120,0.08],[149,0.07]],
  [[0,0.02],[10,0.03],[20,0.06],[25,0.1],[27,0.5],[28,0.97],[30,0.98],[40,0.99],[50,0.99],[60,0.99],[68,0.99],[70,0.97],[77,0.99],[78,0.45],[80,0.15],[84,0.12],[90,0.1],[100,0.09],[120,0.07],[149,0.06]],
  [[0,0.02],[8,0.06],[10,0.12],[12,0.2],[15,0.25],[18,0.3],[22,0.45],[24,0.55],[26,0.6],[28,0.7],[30,0.8],[32,0.97],[34,0.98],[40,0.98],[50,0.99],[60,0.99],[70,0.99],[78,0.98],[79,0.2],[80,0.1],[85,0.12],[90,0.13],[95,0.1],[100,0.08],[120,0.06],[149,0.05]],
];
const js2RetainRuns: Pt[][] = [
  [[0,0.005],[6,0.01],[8,0.08],[10,0.15],[12,0.12],[14,0.16],[16,0.1],[20,0.12],[24,0.08],[28,0.1],[32,0.06],[40,0.05],[50,0.03],[60,0.03],[70,0.03],[78,0.01],[149,0.005]],
  [[0,0.005],[8,0.02],[12,0.06],[18,0.08],[24,0.1],[28,0.14],[30,0.16],[34,0.08],[40,0.05],[50,0.04],[70,0.04],[78,0.01],[149,0.005]],
];
const js2ValRuns: Pt[][] = [
  [[0,0.02],[6,0.03],[8,0.12],[10,0.18],[12,0.14],[14,0.19],[18,0.15],[22,0.17],[26,0.14],[29,0.21],[31,0.16],[34,0.19],[38,0.12],[42,0.1],[50,0.08],[60,0.07],[70,0.08],[78,0.03],[80,0.025],[149,0.025]],
  [[0,0.02],[8,0.05],[12,0.1],[16,0.13],[20,0.1],[25,0.14],[30,0.12],[35,0.1],[45,0.08],[55,0.07],[70,0.07],[78,0.03],[149,0.025]],
];

// ---------- styling ----------
const ORANGE = "#FFA500";
const NAVY = "#12405a";
const PINK = "#dc4f86";
const RED_DASH = "#f5606e";
const PINK_DOT = "#ff8fae";
const RED_DASHDOT = "#e8607a";
const SANS = "DejaVu Sans, Verdana, sans-serif";
const SERIF = "Liberation Serif, Times New Roman, serif";
const TABLE = "#555";

type Marker = "square" | "circle" | "triangle" | "none";
interface Series { data: Pt[]; color: string; width: number; opacity: number; marker: Marker; ms: number }
interface HLine { y: number; color: string; dash: string; width: number; extend: number; opacity: number }
interface LegendItem { label: string; color: string; width: number; dash?: string; marker: Marker; ms: number; opacity?: number }
interface Legend { x: number; y: number; w: number; h: number; firstRow: number; rowH: number; fontSize: number; s0: number; s1: number; tx: number; items: LegendItem[] }
interface PanelSpec {
  id: string; left: number; right: number; top: number; bottom: number; xDomain: [number, number];
  tickFont: number; yLabel: string; yLabelFont: number; xLabelFont: number; yLabelOffset: number; xLabelOffset: number; xTickOffset: number;
  series: Series[]; hlines: HLine[]; legend: Legend;
}

function markerPath(pts: [number, number][], m: Marker, s: number): string {
  const h = s / 2;
  return pts.map(([cx, cy]) => {
    if (m === "square") return `M${cx - h},${cy - h}h${s}v${s}h${-s}Z`;
    if (m === "circle") return `M${cx - h},${cy}a${h},${h} 0 1,0 ${s},0a${h},${h} 0 1,0 ${-s},0Z`;
    if (m === "triangle") return `M${cx},${cy - h}L${cx + h},${cy + h}L${cx - h},${cy + h}Z`;
    return "";
  }).join("");
}

const faintF = (data: Pt[]): Series => ({ data, color: ORANGE, width: 1, opacity: 0.38, marker: "square", ms: 1.9 });
const faintR = (data: Pt[]): Series => ({ data, color: NAVY, width: 0.8, opacity: 0.28, marker: "circle", ms: 1.6 });
const faintV = (data: Pt[]): Series => ({ data, color: PINK, width: 0.8, opacity: 0.33, marker: "triangle", ms: 1.8 });
const meanR = (data: Pt[]): Series => ({ data, color: NAVY, width: 1.4, opacity: 1, marker: "circle", ms: 2.2 });
const meanF = (data: Pt[], ms = 3.4, w = 2): Series => ({ data, color: ORANGE, width: w, opacity: 1, marker: "square", ms });
const meanV = (data: Pt[]): Series => ({ data, color: PINK, width: 1.4, opacity: 1, marker: "triangle", ms: 2.6 });

const accHlines = (extend: number): HLine[] => [
  { y: RETRAINED_ACC[0], color: RED_DASH, dash: "3.5,2", width: 1, extend, opacity: 0.9 },
  { y: RETRAINED_ACC[1], color: PINK_DOT, dash: "1,1.3", width: 1, extend, opacity: 0.9 },
  { y: RETRAINED_ACC[2], color: RED_DASHDOT, dash: "4,1.5,1,1.5", width: 1, extend, opacity: 0.9 },
];

const accLegendItems: LegendItem[] = [
  { label: ACC_LEGEND[0], color: NAVY, width: 1.4, marker: "circle", ms: 2.4 },
  { label: ACC_LEGEND[1], color: ORANGE, width: 2, marker: "square", ms: 3.4 },
  { label: ACC_LEGEND[2], color: PINK, width: 1.4, marker: "triangle", ms: 2.8 },
  { label: ACC_LEGEND[3], color: RED_DASH, width: 1, dash: "3.5,2", marker: "none", ms: 0 },
  { label: ACC_LEGEND[4], color: PINK_DOT, width: 1, dash: "1,1.3", marker: "none", ms: 0 },
  { label: ACC_LEGEND[5], color: RED_DASHDOT, width: 1, dash: "4,1.5,1,1.5", marker: "none", ms: 0 },
];
const miaLegendItems: LegendItem[] = [
  { label: MIA_LEGEND[0], color: "#ff7f8f", width: 1, dash: "3,2", marker: "none", ms: 0, opacity: 0.8 },
  { label: MIA_LEGEND[1], color: ORANGE, width: 1.4, marker: "square", ms: 2.4 },
];
const jsLegendItems: LegendItem[] = [
  { label: JS_LEGEND[0], color: NAVY, width: 1.4, marker: "circle", ms: 2.4 },
  { label: JS_LEGEND[1], color: ORANGE, width: 2, marker: "square", ms: 3.4, opacity: 0.75 },
  { label: JS_LEGEND[2], color: PINK, width: 1.4, marker: "triangle", ms: 2.8 },
];

const ACC_X: [number, number] = [-7.45, 156.45];
const MIA_X: [number, number] = [-6.45, 157.45];

function accPanel(id: string, top: number, bottom: number, legY: number, forget: Pt[], retain: Pt[], val: Pt[], fRuns: Pt[][], rRuns: Pt[][], vRuns: Pt[][]): PanelSpec {
  return {
    id, left: 115, right: 389, top, bottom, xDomain: ACC_X, tickFont: 9.8,
    yLabel: "Accuracy", yLabelFont: 13.2, xLabelFont: 13, yLabelOffset: 28, xLabelOffset: 22.8, xTickOffset: 10.3,
    series: [...fRuns.map(faintF), ...rRuns.map(faintR), ...vRuns.map(faintV), meanR(retain), meanF(forget), meanV(val)],
    hlines: accHlines(17),
    legend: { x: 244.3, y: legY, w: 141.7, h: 70, firstRow: 6.7, rowH: 11.45, fontSize: 7.7, s0: 2.4, s1: 19.7, tx: 25, items: accLegendItems },
  };
}
function miaPanel(id: string, top: number, bottom: number, legY: number, main: Pt[], runs: Pt[][]): PanelSpec {
  return {
    id, left: 461.4, right: 739.3, top, bottom, xDomain: MIA_X, tickFont: 8.8,
    yLabel: "MIA Probability", yLabelFont: 10, xLabelFont: 10, yLabelOffset: 26, xLabelOffset: 20.8, xTickOffset: 9.8,
    series: [...runs.map(faintF), meanF(main, 2.4, 1.7)],
    hlines: [{ y: RETRAINED_MIA, color: "#ff7f8f", dash: "3,2", width: 1, extend: 0, opacity: 0.8 }],
    legend: { x: 639, y: legY, w: 96, h: 21.3, firstRow: 5.7, rowH: 10, fontSize: 6.7, s0: 1.7, s1: 17.7, tx: 21.7, items: miaLegendItems },
  };
}
function jsPanel(id: string, top: number, bottom: number, legY: number, forget: Pt[], retain: Pt[], val: Pt[], fRuns: Pt[][], rRuns: Pt[][], vRuns: Pt[][]): PanelSpec {
  return {
    id, left: 814.3, right: 1088.5, top, bottom, xDomain: ACC_X, tickFont: 9.8,
    yLabel: "JS divergence", yLabelFont: 13.2, xLabelFont: 13, yLabelOffset: 28, xLabelOffset: 22.8, xTickOffset: 10.2,
    series: [...fRuns.map(faintF), ...rRuns.map(faintR), ...vRuns.map(faintV), meanF(forget), meanV(val), meanR(retain)],
    hlines: [],
    legend: { x: 983.3, y: legY, w: 101.7, h: 36.5, firstRow: 6.2, rowH: 11.8, fontSize: 7.7, s0: 2.7, s1: 18.7, tx: 25, items: jsLegendItems },
  };
}

const PANELS: PanelSpec[] = [
  accPanel("a64", 56, 242.7, 167.7, acc64Forget, acc64Retain, acc64Val, acc64ForgetRuns, acc64RetainRuns, acc64ValRuns),
  miaPanel("m64", 42.7, 246, 221, mia64Main, mia64Runs),
  jsPanel("j64", 56, 242.7, 60.7, js64Forget, js64Retain, js64Val, js64ForgetRuns, js64RetainRuns, js64ValRuns),
  accPanel("a2", 304.3, 489.7, 415, acc2Forget, acc2Retain, acc2Val, acc2ForgetRuns, acc2RetainRuns, acc2ValRuns),
  miaPanel("m2", 289.7, 493.3, 467.7, mia2Main, mia2Runs),
  jsPanel("j2", 303.7, 489.7, 307.7, js2Forget, js2Retain, js2Val, js2ForgetRuns, js2RetainRuns, js2ValRuns),
];

function Panel({ p }: { p: PanelSpec }) {
  const x = d3.scaleLinear().domain(p.xDomain).range([p.left, p.right]);
  const y = d3.scaleLinear().domain([0, 1.1]).range([p.bottom, p.top]);
  const line = d3.line<Pt>().x((d) => x(d[0])).y((d) => y(d[1]));
  const clip = `clip-${p.id}`;
  const L = p.legend;
  return (
    <g>
      <defs>
        <clipPath id={clip}>
          <rect x={p.left} y={p.top} width={p.right - p.left} height={p.bottom - p.top} />
        </clipPath>
      </defs>
      {ROUND_TICKS.map((t) => (
        <line key={`gx${t}`} x1={x(t)} x2={x(t)} y1={p.top} y2={p.bottom} stroke="#d9d9d9" strokeWidth={0.8} />
      ))}
      {VALUE_TICKS.map((t) => (
        <line key={`gy${t}`} x1={p.left} x2={p.right} y1={y(t)} y2={y(t)} stroke="#d9d9d9" strokeWidth={0.8} />
      ))}
      <g clipPath={`url(#${clip})`}>
        {p.series.map((s, i) => (
          <g key={i} opacity={s.opacity}>
            <path d={line(s.data) || ""} fill="none" stroke={s.color} strokeWidth={s.width} strokeLinejoin="round" />
            {s.marker !== "none" && (
              <path d={markerPath(s.data.map((d) => [x(d[0]), y(d[1])] as [number, number]), s.marker, s.ms)} fill={s.color} />
            )}
          </g>
        ))}
      </g>
      {p.hlines.map((h, i) => (
        <line key={`h${i}`} x1={p.left} x2={p.right + h.extend} y1={y(h.y)} y2={y(h.y)} stroke={h.color} strokeWidth={h.width} strokeDasharray={h.dash} opacity={h.opacity} />
      ))}
      <rect x={p.left} y={p.top} width={p.right - p.left} height={p.bottom - p.top} fill="none" stroke="#222" strokeWidth={1} />
      {ROUND_TICKS.map((t) => (
        <g key={`tx${t}`}>
          <line x1={x(t)} x2={x(t)} y1={p.bottom} y2={p.bottom + 3.5} stroke="#222" strokeWidth={0.8} />
          <text x={x(t)} y={p.bottom + p.xTickOffset} textAnchor="middle" dominantBaseline="central" fontFamily={SANS} fontSize={p.tickFont} fill="#222">{t}</text>
        </g>
      ))}
      {VALUE_TICKS.map((t) => (
        <g key={`ty${t}`}>
          <line x1={p.left - 3.5} x2={p.left} y1={y(t)} y2={y(t)} stroke="#222" strokeWidth={0.8} />
          <text x={p.left - 5} y={y(t)} textAnchor="end" dominantBaseline="central" fontFamily={SANS} fontSize={p.tickFont} fill="#222">{t.toFixed(1)}</text>
        </g>
      ))}
      <text x={(p.left + p.right) / 2} y={p.bottom + p.xLabelOffset} textAnchor="middle" dominantBaseline="central" fontFamily={SANS} fontSize={p.xLabelFont} fill="#111">Round</text>
      <text transform={`translate(${p.left - p.yLabelOffset},${(p.top + p.bottom) / 2}) rotate(-90)`} textAnchor="middle" dominantBaseline="central" fontFamily={SANS} fontSize={p.yLabelFont} fill="#111">{p.yLabel}</text>
      <g>
        <rect x={L.x} y={L.y} width={L.w} height={L.h} rx={2} fill="white" fillOpacity={0.85} stroke="#cccccc" strokeWidth={0.8} />
        {L.items.map((it, i) => {
          const cy = L.y + L.firstRow + i * L.rowH;
          const mx = L.x + (L.s0 + L.s1) / 2;
          return (
            <g key={i}>
              <g opacity={it.opacity ?? 1}>
                <line x1={L.x + L.s0} x2={L.x + L.s1} y1={cy} y2={cy} stroke={it.color} strokeWidth={it.width} strokeDasharray={it.dash} />
                {it.marker !== "none" && <path d={markerPath([[mx, cy]], it.marker, it.ms)} fill={it.color} />}
              </g>
              <text x={L.x + L.tx} y={cy} dominantBaseline="central" fontFamily={SANS} fontSize={L.fontSize} fill="#222">{it.label}</text>
            </g>
          );
        })}
      </g>
    </g>
  );
}

export default function App() {
  const W = 1107;
  const H = 529;
  const colCenters = [234, 584.5, 937];
  const lambdaCenters = [213, 494];
  const hLines = [7.5, 37.5, 284.5];
  const vLines = [8.5, 60.5, 409.5, 759.5];
  return (
    <svg width={W} height={H} style={{ position: "absolute", left: 0, top: 0, background: "white" }} xmlns="http://www.w3.org/2000/svg">
      <rect x={0} y={0} width={W} height={H} fill="white" />
      {PANELS.map((p) => (
        <Panel key={p.id} p={p} />
      ))}
      {hLines.map((yy, i) => (
        <line key={`th${i}`} x1={8} x2={W} y1={yy} y2={yy} stroke={TABLE} strokeWidth={1.6} />
      ))}
      {vLines.map((xx, i) => (
        <line key={`tv${i}`} x1={xx} x2={xx} y1={7} y2={H} stroke={TABLE} strokeWidth={1.6} />
      ))}
      {COL_TITLES.map((t, i) => (
        <text key={t} x={colCenters[i]} y={28.5} textAnchor="middle" fontFamily={SERIF} fontWeight="bold" fontSize={26} fill="#000">{t}</text>
      ))}
      {ROW_LAMBDAS.map((l, i) => (
        <text key={l} transform={`translate(34,${lambdaCenters[i]}) rotate(-90)`} textAnchor="middle" dominantBaseline="central" fontFamily={SERIF} fontSize={24} fill="#000">
          <tspan fontStyle="italic">λ</tspan>
          <tspan dx={6}>=</tspan>
          <tspan dx={6}>{l}</tspan>
        </text>
      ))}
    </svg>
  );
}
